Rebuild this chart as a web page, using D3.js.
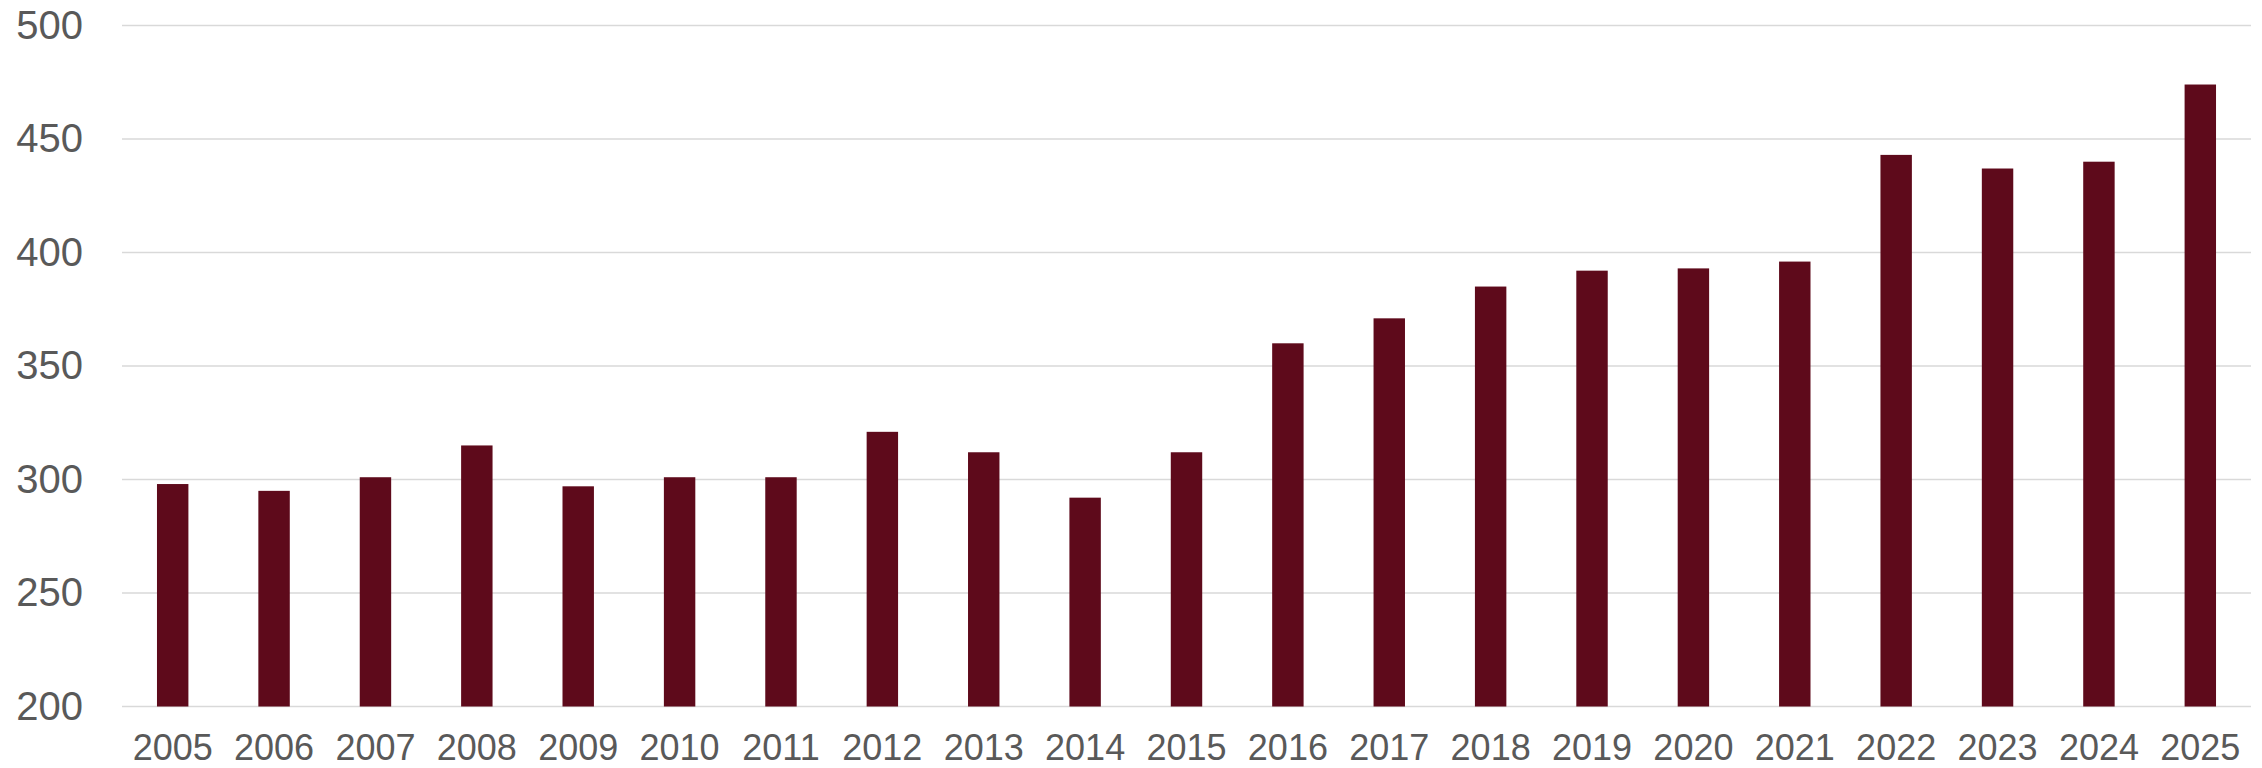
<!DOCTYPE html>
<html lang="en">

<head>
    <meta charset="UTF-8">
    <title>Bar chart 2005-2025</title>
    <script src="https://d3js.org/d3.v7.min.js"></script>
    <style>
        body {
            margin: 0;
            background: #fff;
        }

        #chart text {
            font-family: "Liberation Sans", Arial, sans-serif;
            fill: #595959;
        }
    </style>
</head>

<body>
    <div id="chart"></div>

    <script>
        // Data
        const years = ["2005", "2006", "2007", "2008", "2009", "2010", "2011", "2012", "2013", "2014", "2015",
            "2016", "2017", "2018", "2019", "2020", "2021", "2022", "2023", "2024", "2025"];
        const values = [298, 295, 301, 315, 297, 301, 301, 321, 312, 292, 312,
            360, 371, 385, 392, 393, 396, 443, 437, 440, 474];
        const yTicks = [200, 250, 300, 350, 400, 450, 500];

        const width = 2262, height = 768;
        const margin = { top: 25.5, right: 11, bottom: 61.5, left: 122 };

        const svg = d3.select("#chart")
            .append("svg")
            .attr("width", width)
            .attr("height", height);

        const x = d3.scaleBand()
            .domain(years)
            .range([margin.left, width - margin.right])
            .paddingInner(0.69)
            .paddingOuter(0.345);

        const y = d3.scaleLinear()
            .domain([200, 500])
            .range([height - margin.bottom, margin.top]);

        // Gridlines
        svg.append("g")
            .selectAll("line")
            .data(yTicks)
            .join("line")
            .attr("x1", margin.left)
            .attr("x2", width - margin.right)
            .attr("y1", d => y(d))
            .attr("y2", d => y(d))
            .attr("stroke", "#d9d9d9")
            .attr("stroke-width", 1.6);

        // Y axis labels
        const yAxis = svg.append("g")
            .attr("transform", `translate(83,0)`)
            .call(d3.axisLeft(y).tickValues(yTicks).tickSize(0).tickPadding(0));
        yAxis.select(".domain").remove();
        yAxis.selectAll("text")
            .style("font-size", "40px");

        // Bars
        svg.append("g")
            .selectAll("rect")
            .data(values)
            .join("rect")
            .attr("x", (d, i) => x(years[i]))
            .attr("width", x.bandwidth())
            .attr("y", d => y(d))
            .attr("height", d => y(200) - y(d))
            .attr("fill", "#5e0a1b");

        // X axis labels (kept just inside the bottom edge)
        const xAxis = svg.append("g")
            .attr("transform", `translate(0,${height - margin.bottom})`)
            .call(d3.axisBottom(x).tickSize(0).tickPadding(28));
        xAxis.select(".domain").remove();
        xAxis.selectAll("text")
            .style("font-size", "36px");
    </script>
</body>

</html>
